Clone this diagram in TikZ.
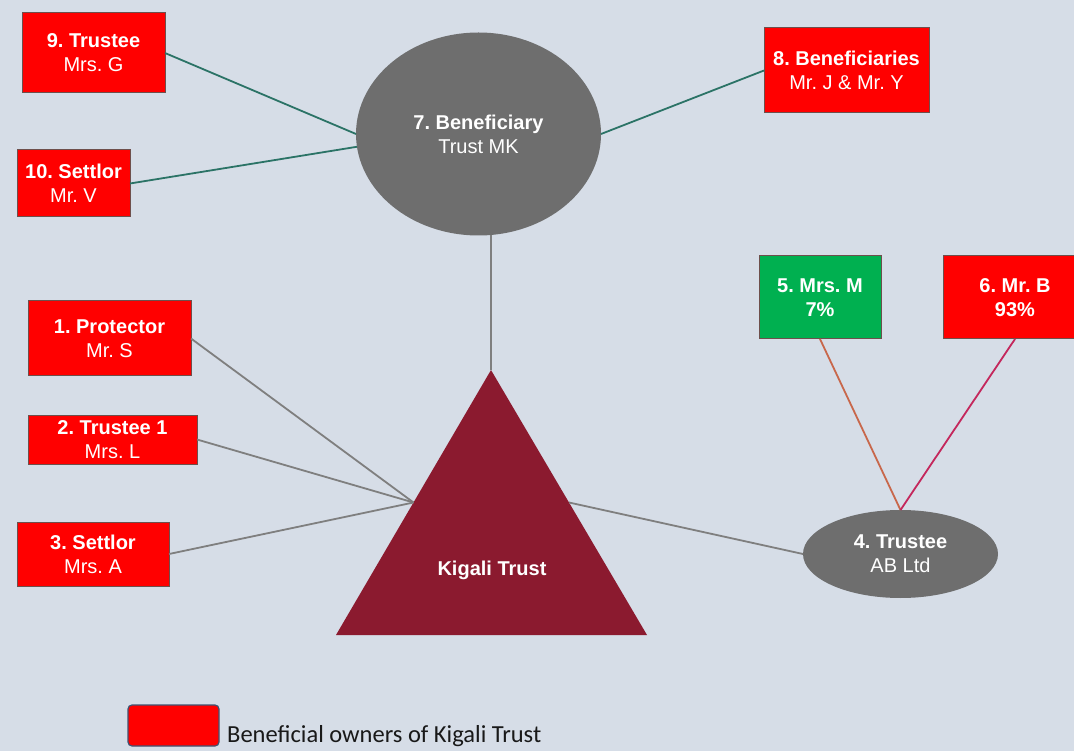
\documentclass[tikz,border=0pt]{standalone}
\usepackage{fontspec}
\setmainfont{Liberation Sans}
\newfontfamily\legendfont{Carlito}
\usetikzlibrary{shapes.geometric,calc}
\frenchspacing

\definecolor{pagebg}{HTML}{D6DDE7}
\definecolor{ownerred}{HTML}{FF0000}
\definecolor{ownergreen}{HTML}{00B050}
\definecolor{boxedge}{HTML}{6E4F4C}
\definecolor{entitygray}{HTML}{6E6E6E}
\definecolor{trustred}{HTML}{8B1A2F}
\definecolor{tealline}{HTML}{2B7366}
\definecolor{grayline}{HTML}{7F7F7F}
\definecolor{orangeline}{HTML}{C8674B}
\definecolor{crimsonline}{HTML}{C4275C}
\definecolor{legendedge}{HTML}{3F5372}

\begin{document}
\begin{tikzpicture}[x=1pt,y=-1pt,
  label font/.style={font=\fontsize{20}{24}\selectfont},
  party/.style={draw=boxedge, line width=1pt, fill=ownerred, text=white,
    align=center, inner sep=0pt, outer sep=0pt, label font},
  shareholder/.style={party, fill=ownergreen},
  entity/.style={ellipse, fill=entitygray, text=white, align=center,
    inner sep=0pt, outer sep=0pt, label font},
  link/.style={line width=1.8pt},
]
% page
\fill[pagebg] (0,0) rectangle (1074,751);
\useasboundingbox (0,0) rectangle (1074,751);

% trust MK and its parties
\node[entity, minimum width=245pt, minimum height=203pt] (e7) at (478.5,134)
  {\textbf{7. Beneficiary}\\Trust MK};
\node[party, minimum width=143pt, minimum height=80pt] (b9) at (93.5,53)
  {\textbf{9. Trustee}\\Mrs. G};
\node[party, minimum width=113pt, minimum height=67pt] (b10) at (73.5,183.5)
  {\textbf{10. Settlor}\\Mr. V};
\node[party, minimum width=165pt, minimum height=85pt] (b8) at (846.5,70.5)
  {\textbf{8. Beneficiaries}\\Mr. J \& Mr. Y};

% Kigali Trust
\coordinate (ta) at (491,370);
\coordinate (tl) at (336,635);
\coordinate (tr) at (647,635);
\coordinate (tlm) at ($(ta)!0.5!(tl)$);
\coordinate (trm) at ($(ta)!0.5!(tr)$);
\fill[trustred] (ta) -- (tl) -- (tr) -- cycle;
\node[text=white, label font] (kt) at (492,570) {\textbf{Kigali Trust}};

% parties of Kigali Trust
\node[party, minimum width=163pt, minimum height=75pt] (b1) at (109.5,338.5)
  {\textbf{1. Protector}\\Mr. S};
\node[party, minimum width=169pt, minimum height=49pt] (b2) at (112.5,439.5)
  {\textbf{2. Trustee 1}\\Mrs. L};
\node[party, minimum width=152pt, minimum height=64pt] (b3) at (93,554)
  {\textbf{3. Settlor}\\Mrs. A};

% corporate trustee and its shareholders
\node[entity, minimum width=195pt, minimum height=88pt] (e4) at (900.5,554)
  {\textbf{4. Trustee}\\AB Ltd};
\node[shareholder, minimum width=122pt, minimum height=83pt] (b5) at (820,297.5)
  {\textbf{5. Mrs. M}\\\textbf{7\%}};
\node[party, minimum width=144pt, minimum height=83pt] (b6) at (1015,297.5)
  {\textbf{6. Mr. B}\\\textbf{93\%}};

% connectors
\draw[link, tealline] (b9.east) -- (e7.180);
\draw[link, tealline] (b10.east) -- (e7.186);
\draw[link, tealline] (e7.0) -- (b8.west);
\draw[link, grayline] (ta) -- (ta |- e7.south);
\draw[link, grayline] (b1.east) -- (tlm);
\draw[link, grayline] (b2.east) -- (tlm);
\draw[link, grayline] (b3.east) -- (tlm);
\draw[link, grayline] (trm) -- (e4.west);
\draw[link, orangeline] (b5.south) -- (e4.north);
\draw[link, crimsonline] (b6.south) -- (e4.north);

% legend
\node[draw=legendedge, line width=1.2pt, fill=ownerred, rounded corners=4pt,
  minimum width=91pt, minimum height=41pt, inner sep=0pt] (lgbox) at (173.5,725.5) {};
\node[anchor=base west, inner sep=0pt, text=black!90,
  font=\legendfont\fontsize{24.5}{28}\selectfont] (lgtext) at (227,742)
  {Beneficial owners of Kigali Trust};
\end{tikzpicture}
\end{document}
